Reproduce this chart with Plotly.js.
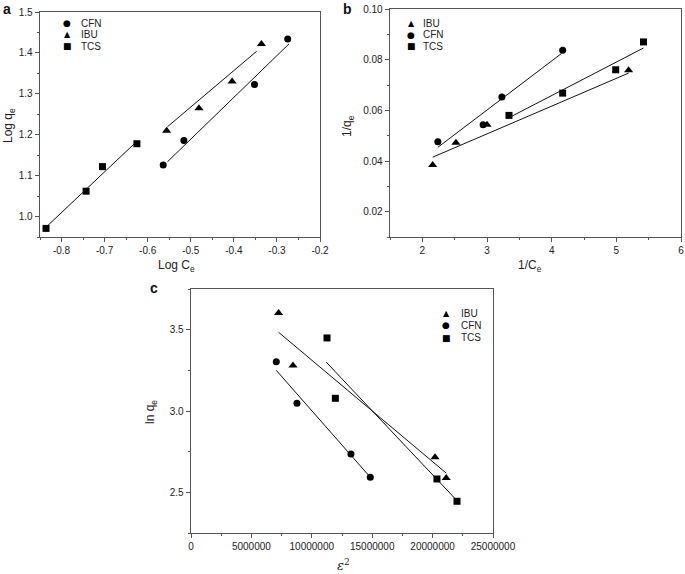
<!DOCTYPE html>
<html>
<head>
<meta charset="utf-8">
<script src="https://cdn.plot.ly/plotly-3.0.1.min.js"></script>
<style>html,body{margin:0;padding:0;background:#fff;}#chart{width:685px;height:574px;}</style>
</head>
<body>
<div id="chart"></div>
<script>
// ---------- Panel a: Log Ce vs Log qe ----------
const aCfnX = [-0.564, -0.516, -0.352, -0.275];
const aCfnY = [1.126, 1.186, 1.323, 1.434];
const aIbuX = [-0.556, -0.481, -0.404, -0.336];
const aIbuY = [1.210, 1.265, 1.330, 1.422];
const aTcsX = [-0.836, -0.743, -0.705, -0.625];
const aTcsY = [0.971, 1.062, 1.122, 1.178];
// fitted lines (end points)
const aCfnFitX = [-0.554, -0.272];
const aCfnFitY = [1.134, 1.422];
const aIbuFitX = [-0.554, -0.347];
const aIbuFitY = [1.2196, 1.404];
const aTcsFitX = [-0.832, -0.629];
const aTcsFitY = [0.978, 1.180];
const aXTicks = [-0.8, -0.7, -0.6, -0.5, -0.4, -0.3, -0.2];
const aXTickText = ["-0.8", "-0.7", "-0.6", "-0.5", "-0.4", "-0.3", "-0.2"];
const aLegendNames = ["CFN", "IBU", "TCS"];

// ---------- Panel b: 1/Ce vs 1/qe ----------
const bIbuX = [2.16, 2.52, 3.00, 5.19];
const bIbuY = [0.0384, 0.0472, 0.0543, 0.0758];
const bCfnX = [2.24, 2.94, 3.23, 4.17];
const bCfnY = [0.0476, 0.0543, 0.0653, 0.0837];
const bTcsX = [3.34, 4.17, 4.99, 5.42];
const bTcsY = [0.0580, 0.0668, 0.0760, 0.0870];
const bIbuFitX = [2.16, 5.19];
const bIbuFitY = [0.0415, 0.0747];
const bCfnFitX = [2.24, 4.15];
const bCfnFitY = [0.0454, 0.0824];
const bTcsFitX = [3.34, 5.42];
const bTcsFitY = [0.0571, 0.0846];
const bLegendNames = ["IBU", "CFN", "TCS"];

// ---------- Panel c: epsilon^2 vs ln qe ----------
const cIbuX = [7250000, 8440000, 20200000, 21130000];
const cIbuY = [3.602, 3.280, 2.715, 2.588];
const cCfnX = [7060000, 8770000, 13240000, 14840000];
const cCfnY = [3.302, 3.047, 2.735, 2.592];
const cTcsX = [11260000, 11950000, 20360000, 22020000];
const cTcsY = [3.449, 3.078, 2.582, 2.445];
const cIbuFitX = [7250000, 21130000];
const cIbuFitY = [3.484, 2.618];
const cCfnFitX = [7060000, 14780000];
const cCfnFitY = [3.250, 2.598];
const cTcsFitX = [11200000, 22020000];
const cTcsFitY = [3.300, 2.449];
const cLegendNames = ["IBU", "CFN", "TCS"];

const W = 685, H = 574;
const FONT = "Liberation Sans, Arial, sans-serif";
const TXT = "#222";
const AX = "#555";
const GLYPH = {"circle": "\u25CF", "triangle-up": "\u25B2", "square": "\u25A0"};
const SYM = {"CFN": "circle", "IBU": "triangle-up", "TCS": "square"};

function pts(x, y, sym, name, xa, ya) {
  return {x: x, y: y, type: "scatter", mode: "markers", name: name, showlegend: false,
    xaxis: xa, yaxis: ya,
    marker: {symbol: sym, size: sym === "triangle-up" ? 8 : 7, color: "#000"}};
}
function fit(x, y, xa, ya) {
  return {x: x, y: y, type: "scatter", mode: "lines", showlegend: false,
    xaxis: xa, yaxis: ya, line: {color: "#111", width: 1}, hoverinfo: "skip"};
}

const data = [
  pts(aCfnX, aCfnY, "circle", "CFN", "x", "y"),
  pts(aIbuX, aIbuY, "triangle-up", "IBU", "x", "y"),
  pts(aTcsX, aTcsY, "square", "TCS", "x", "y"),
  fit(aCfnFitX, aCfnFitY, "x", "y"),
  fit(aIbuFitX, aIbuFitY, "x", "y"),
  fit(aTcsFitX, aTcsFitY, "x", "y"),

  pts(bIbuX, bIbuY, "triangle-up", "IBU", "x2", "y2"),
  pts(bCfnX, bCfnY, "circle", "CFN", "x2", "y2"),
  pts(bTcsX, bTcsY, "square", "TCS", "x2", "y2"),
  fit(bIbuFitX, bIbuFitY, "x2", "y2"),
  fit(bCfnFitX, bCfnFitY, "x2", "y2"),
  fit(bTcsFitX, bTcsFitY, "x2", "y2"),

  pts(cIbuX, cIbuY, "triangle-up", "IBU", "x3", "y3"),
  pts(cCfnX, cCfnY, "circle", "CFN", "x3", "y3"),
  pts(cTcsX, cTcsY, "square", "TCS", "x3", "y3"),
  fit(cIbuFitX, cIbuFitY, "x3", "y3"),
  fit(cCfnFitX, cCfnFitY, "x3", "y3"),
  fit(cTcsFitX, cTcsFitY, "x3", "y3")
];

function axis(extra) {
  return Object.assign({
    showline: true, mirror: true, linecolor: AX, linewidth: 1.3,
    ticks: "outside", ticklen: 4, tickwidth: 1, tickcolor: AX,
    showgrid: false, zeroline: false,
    tickfont: {family: FONT, size: 10, color: TXT}
  }, extra);
}
function px(x) { return x / W; }
function py(y) { return 1 - y / H; }

function ann(text, x, y, opts) {
  return Object.assign({text: text, x: px(x), y: py(y), xref: "paper", yref: "paper",
    showarrow: false, xanchor: "center", yanchor: "middle",
    font: {family: FONT, size: 12, color: TXT}}, opts || {});
}

const annotations = [
  ann("<b>a</b>", 7, 9, {font: {family: FONT, size: 14, color: "#111"}}),
  ann("<b>b</b>", 347, 9, {font: {family: FONT, size: 14, color: "#111"}}),
  ann("<b>c</b>", 154, 288, {font: {family: FONT, size: 14, color: "#111"}}),
  ann("Log q<sub>e</sub>", 9, 126, {textangle: -90}),
  ann("Log C<sub>e</sub>", 176, 266),
  ann("1/q<sub>e</sub>", 348, 126, {textangle: -90}),
  ann("1/C<sub>e</sub>", 530, 266),
  ann("ln q<sub>e</sub>", 151, 412, {textangle: -90}),
  ann("<i>\u03B5</i><sup>2</sup>", 343, 565, {font: {family: "DejaVu Serif, serif", size: 13, color: TXT}})
];

function legendRows(names, symX, textX, y0, dy) {
  names.forEach(function (n, i) {
    const g = GLYPH[SYM[n]];
    annotations.push(ann(g, symX, y0 + i * dy,
      {font: {family: "DejaVu Sans, sans-serif", size: SYM[n] === "triangle-up" ? 8 : 9, color: "#000"}}));
    annotations.push(ann(n, textX, y0 + i * dy,
      {xanchor: "left", font: {family: FONT, size: 10, color: TXT}}));
  });
}
legendRows(aLegendNames, 67, 79, 23, 11.6);
legendRows(bLegendNames, 411, 421, 23, 11.6);
legendRows(cLegendNames, 446, 459, 313, 12.4);

const layout = {
  width: W, height: H,
  margin: {l: 0, r: 0, t: 0, b: 0},
  paper_bgcolor: "#fff", plot_bgcolor: "#fff",
  font: {family: FONT, color: TXT},
  showlegend: false,
  xaxis: axis({domain: [px(40), px(320)], range: [-0.85, -0.2], anchor: "y",
    tickvals: aXTicks, ticktext: aXTickText,
    minor: {ticks: "outside", ticklen: 2, dtick: 0.05, tickcolor: AX}}),
  yaxis: axis({domain: [py(237), py(12)], range: [0.95, 1.5], anchor: "x",
    dtick: 0.1, tickformat: ".1f",
    minor: {ticks: "outside", ticklen: 2, dtick: 0.05, tickcolor: AX}}),
  xaxis2: axis({domain: [px(390), px(681)], range: [1.5, 6], anchor: "y2",
    dtick: 1, minor: {ticks: "outside", ticklen: 2, dtick: 0.5, tickcolor: AX}}),
  yaxis2: axis({domain: [py(237), py(9)], range: [0.01, 0.10], anchor: "x2",
    tickvals: [0.02, 0.04, 0.06, 0.08, 0.10], tickformat: ".2f",
    minor: {ticks: "outside", ticklen: 2, dtick: 0.01, tickcolor: AX}}),
  xaxis3: axis({domain: [px(191), px(493)], range: [0, 25000000], anchor: "y3",
    dtick: 5000000, tickformat: "d",
    minor: {ticks: "outside", ticklen: 2, dtick: 2500000, tickcolor: AX}}),
  yaxis3: axis({domain: [py(533), py(289)], range: [2.25, 3.75], anchor: "x3",
    dtick: 0.5, tickformat: ".1f",
    minor: {ticks: "outside", ticklen: 2, dtick: 0.25, tickcolor: AX}}),
  annotations: annotations
};

Plotly.newPlot("chart", data, layout, {displayModeBar: false, staticPlot: true});
</script>
</body>
</html>
